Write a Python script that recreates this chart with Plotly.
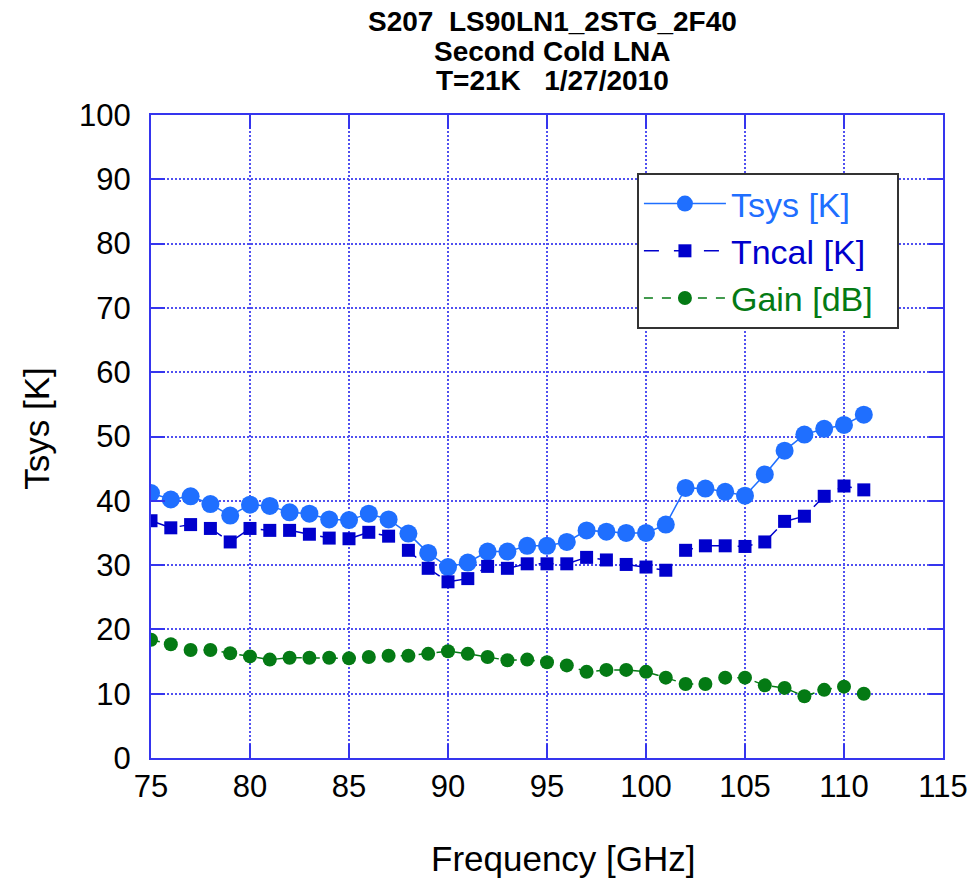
import plotly.graph_objects as go

freq = list(range(75, 112))
tsys = [41.2, 40.2, 40.7, 39.5, 37.7, 39.4, 39.2, 38.2, 38.0, 37.1, 37.0, 38.0, 37.1, 34.9,
        31.9, 29.7, 30.4, 32.1, 32.1, 33.0, 33.0, 33.6, 35.4, 35.2, 35.0, 35.0, 36.3, 42.0,
        41.9, 41.4, 40.8, 44.1, 47.8, 50.3, 51.2, 51.8, 53.4]
tncal = [36.9, 35.8, 36.3, 35.7, 33.6, 35.7, 35.4, 35.4, 34.8, 34.2, 34.1, 35.1, 34.5, 32.3,
         29.5, 27.4, 27.9, 29.8, 29.5, 30.2, 30.2, 30.2, 31.2, 30.8, 30.1, 29.7, 29.2, 32.3,
         33.0, 33.0, 32.9, 33.6, 36.8, 37.6, 40.7, 42.3, 41.7]
gain = [18.4, 17.7, 16.8, 16.8, 16.3, 15.8, 15.3, 15.6, 15.6, 15.6, 15.5, 15.7, 15.9, 15.9,
        16.2, 16.6, 16.2, 15.7, 15.2, 15.3, 14.9, 14.4, 13.4, 13.7, 13.7, 13.4, 12.5, 11.5,
        11.5, 12.5, 12.5, 11.3, 10.9, 9.6, 10.6, 11.1, 10.0]

title_lines = ["S207  LS90LN1_2STG_2F40", "Second Cold LNA", "T=21K   1/27/2010"]
x_title = "Frequency [GHz]"
y_title = "Tsys [K]"

C_TSYS = "#1F6FFF"
C_TNCAL = "#0000CC"
C_GAIN = "#047A14"
AXC = "#3535EE"
GRIDC = "#5050F0"
FONT = "Liberation Sans, Arial, sans-serif"

fig = go.Figure()
fig.add_trace(go.Scatter(
    x=freq, y=tsys, mode="lines+markers",
    name=f"<span style='color:{C_TSYS}'>Tsys [K]</span>",
    line=dict(color=C_TSYS, width=1.5),
    marker=dict(symbol="circle", size=18, color=C_TSYS),
))
fig.add_trace(go.Scatter(
    x=freq, y=tncal, mode="lines+markers",
    name=f"<span style='color:{C_TNCAL}'>Tncal [K]</span>",
    line=dict(color=C_TNCAL, width=1.5, dash="longdash"),
    marker=dict(symbol="square", size=13, color=C_TNCAL),
))
fig.add_trace(go.Scatter(
    x=freq, y=gain, mode="lines+markers",
    name=f"<span style='color:{C_GAIN}'>Gain [dB]</span>&nbsp;&nbsp;",
    line=dict(color=C_GAIN, width=1.5, dash="dash"),
    marker=dict(symbol="circle", size=14, color=C_GAIN),
))

L, R, T, B = 151, 32, 115, 125
W = 980 - L - R
H = 883 - T - B

def px(pix):
    return (pix - L) / W

def py(pix):
    return (883 - B - pix) / H

for txt, yp in zip(title_lines, [22, 51, 80]):
    fig.add_annotation(
        text=f"<b>{txt}</b>", xref="paper", yref="paper",
        x=px(555), y=py(yp), xanchor="center", yanchor="middle",
        showarrow=False, font=dict(family=FONT, size=28, color="black"),
    )

fig.add_annotation(
    text=x_title, xref="paper", yref="paper", x=px(566), y=py(858),
    xanchor="center", yanchor="middle", showarrow=False,
    font=dict(family=FONT, size=35, color="black"),
)
fig.add_annotation(
    text=y_title, xref="paper", yref="paper", x=px(35), y=py(428),
    xanchor="center", yanchor="middle", showarrow=False, textangle=-90,
    font=dict(family=FONT, size=35, color="black"),
)

axis_common = dict(
    showline=True, linecolor=AXC, linewidth=2, mirror="ticks",
    ticks="inside", ticklen=14, tickwidth=2, tickcolor=AXC,
    showgrid=True, gridcolor=GRIDC, gridwidth=2, griddash="2px,2px",
    zeroline=False,
    tickfont=dict(family=FONT, size=31, color="black"),
)

fig.update_xaxes(range=[75, 115], dtick=5, tick0=75, **axis_common)
fig.update_yaxes(range=[0, 100], dtick=10, tick0=0, ticklabelstandoff=12, **axis_common)

fig.update_layout(
    width=980, height=883,
    margin=dict(l=L, r=R, t=T, b=B),
    plot_bgcolor="white", paper_bgcolor="white",
    font=dict(family=FONT),
    showlegend=True,
    legend=dict(
        x=px(640), y=py(173), xanchor="left", yanchor="top",
        bgcolor="white", bordercolor="#333333", borderwidth=2,
        font=dict(family=FONT, size=34),
        itemwidth=82, tracegroupgap=0,
    ),
)

fig.write_html("out.html")
